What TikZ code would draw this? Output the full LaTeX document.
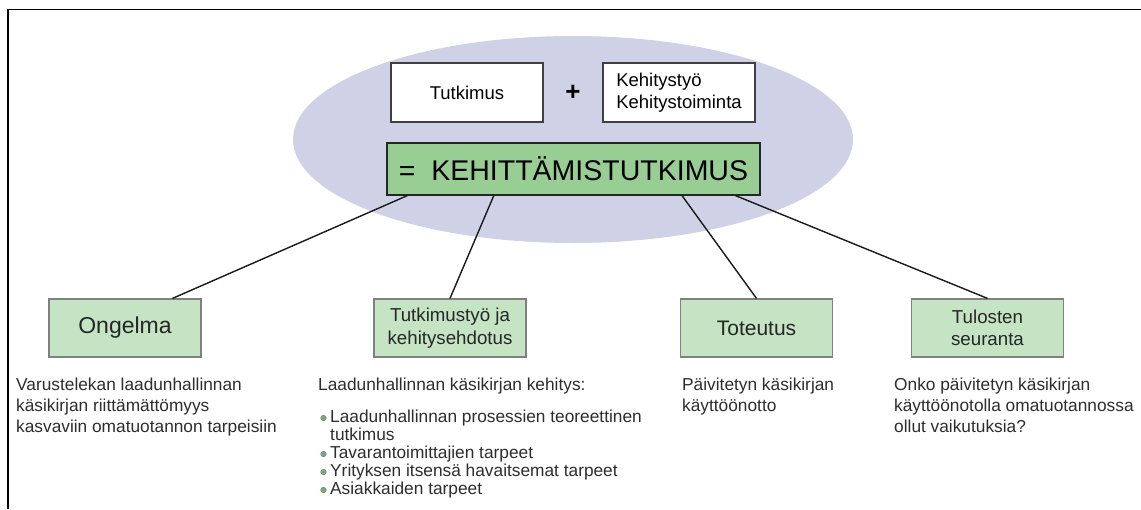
\documentclass[tikz,border=0pt]{standalone}
\usepackage{fontspec}
\setmainfont{Liberation Sans}
\usetikzlibrary{calc,positioning}

\definecolor{ovalblue}{RGB}{207,209,231}
\definecolor{maingreen}{RGB}{152,205,148}
\definecolor{phasegreen}{RGB}{197,228,196}
\definecolor{phaseedge}{RGB}{128,128,128}
\definecolor{notegray}{RGB}{45,45,45}
\definecolor{dotgreen}{RGB}{125,168,125}

\tikzset{
  whitebox/.style={draw=black!75, fill=white, line width=1.2pt, minimum width=152pt, minimum height=59pt, inner sep=0pt, align=left, font=\fontsize{18.5}{22}\selectfont},
  mainbox/.style={draw=black!85, fill=maingreen, line width=1.2pt, minimum width=373pt, minimum height=52pt, inner sep=0pt, font=\fontsize{28.5}{32}\selectfont},
  phasebox/.style={draw=phaseedge, fill=phasegreen, line width=1.2pt, minimum width=152pt, minimum height=58pt, inner sep=0pt, align=center, text=black!85, font=\fontsize{18.7}{22.5}\selectfont},
  notetext/.style={anchor=north west, inner sep=0pt, align=left, text=notegray, font=\fontsize{17.3}{21}\selectfont},
  link/.style={line width=1.4pt, black!90},
  listdot/.style={fill=dotgreen, draw=dotgreen!80!black, line width=0.4pt},
}

\begin{document}
\begin{tikzpicture}[x=1pt, y=-1pt]
  \useasboundingbox (0,0) rectangle (1141,509);

  % frame
  \draw[line width=1.5pt] (8,509) -- (8,9.5) -- (1141,9.5);

  % oval behind the top part
  \fill[ovalblue] (573,139.5) ellipse [x radius=280pt, y radius=103.5pt];

  % research + development
  \node[whitebox, align=center] (tutkimus) at (467,92.5) {Tutkimus};
  \node[whitebox] (kehitys) at (679,92.5) {Kehitystyö\\Kehitystoiminta};
  \node[font=\fontsize{26}{26}\selectfont\bfseries] (plus) at ($(tutkimus.east)!.5!(kehitys.west)$) {+};
  \node[mainbox] (kehtutk) at (573.5,169) {=\ \ KEHITTÄMISTUTKIMUS};

  % phases
  \node[phasebox, font=\fontsize{23}{26}\selectfont] (ongelma) at (125,328) {Ongelma};
  \node[phasebox] (tutkimustyo) at (450,328) {Tutkimustyö ja\\kehitysehdotus};
  \node[phasebox, font=\fontsize{21}{24}\selectfont] (toteutus) at (756.5,328) {Toteutus};
  \node[phasebox] (seuranta) at (987.5,328) {Tulosten\\seuranta};

  \draw[link] ($(kehtutk.south west)!.056!(kehtutk.south east)$) -- ($(ongelma.north west)!.81!(ongelma.north east)$);
  \draw[link] ($(kehtutk.south west)!.287!(kehtutk.south east)$) -- (tutkimustyo.north);
  \draw[link] ($(kehtutk.south west)!.79!(kehtutk.south east)$) -- (toteutus.north);
  \draw[link] ($(kehtutk.south west)!.933!(kehtutk.south east)$) -- (seuranta.north);

  % notes under the phases
  \node[notetext] (ongelmatxt) at (16,378)
    {Varustelekan laadunhallinnan\\käsikirjan riittämättömyys\\kasvaviin omatuotannon tarpeisiin};
  \node[notetext, font=\fontsize{17.3}{18}\selectfont] (tutkimustxt) at (318,378)
    {\begin{tabular}{@{\hspace{12pt}}l@{}}
       \multicolumn{1}{@{}l@{}}{Laadunhallinnan käsikirjan kehitys:}\\[14pt]
       Laadunhallinnan prosessien teoreettinen\\
       tutkimus\\
       Tavarantoimittajien tarpeet\\
       Yrityksen itsensä havaitsemat tarpeet\\
       Asiakkaiden tarpeet
     \end{tabular}};
  \foreach \yy in {418,454,472,490}
    \fill[listdot] (323.5,\yy) circle (2.8pt);
  \node[notetext] (toteutustxt) at (682,378) {Päivitetyn käsikirjan\\käyttöönotto};
  \node[notetext] (seurantatxt) at (894,378)
    {Onko päivitetyn käsikirjan\\käyttöönotolla omatuotannossa\\ollut vaikutuksia?};

\end{tikzpicture}
\end{document}
